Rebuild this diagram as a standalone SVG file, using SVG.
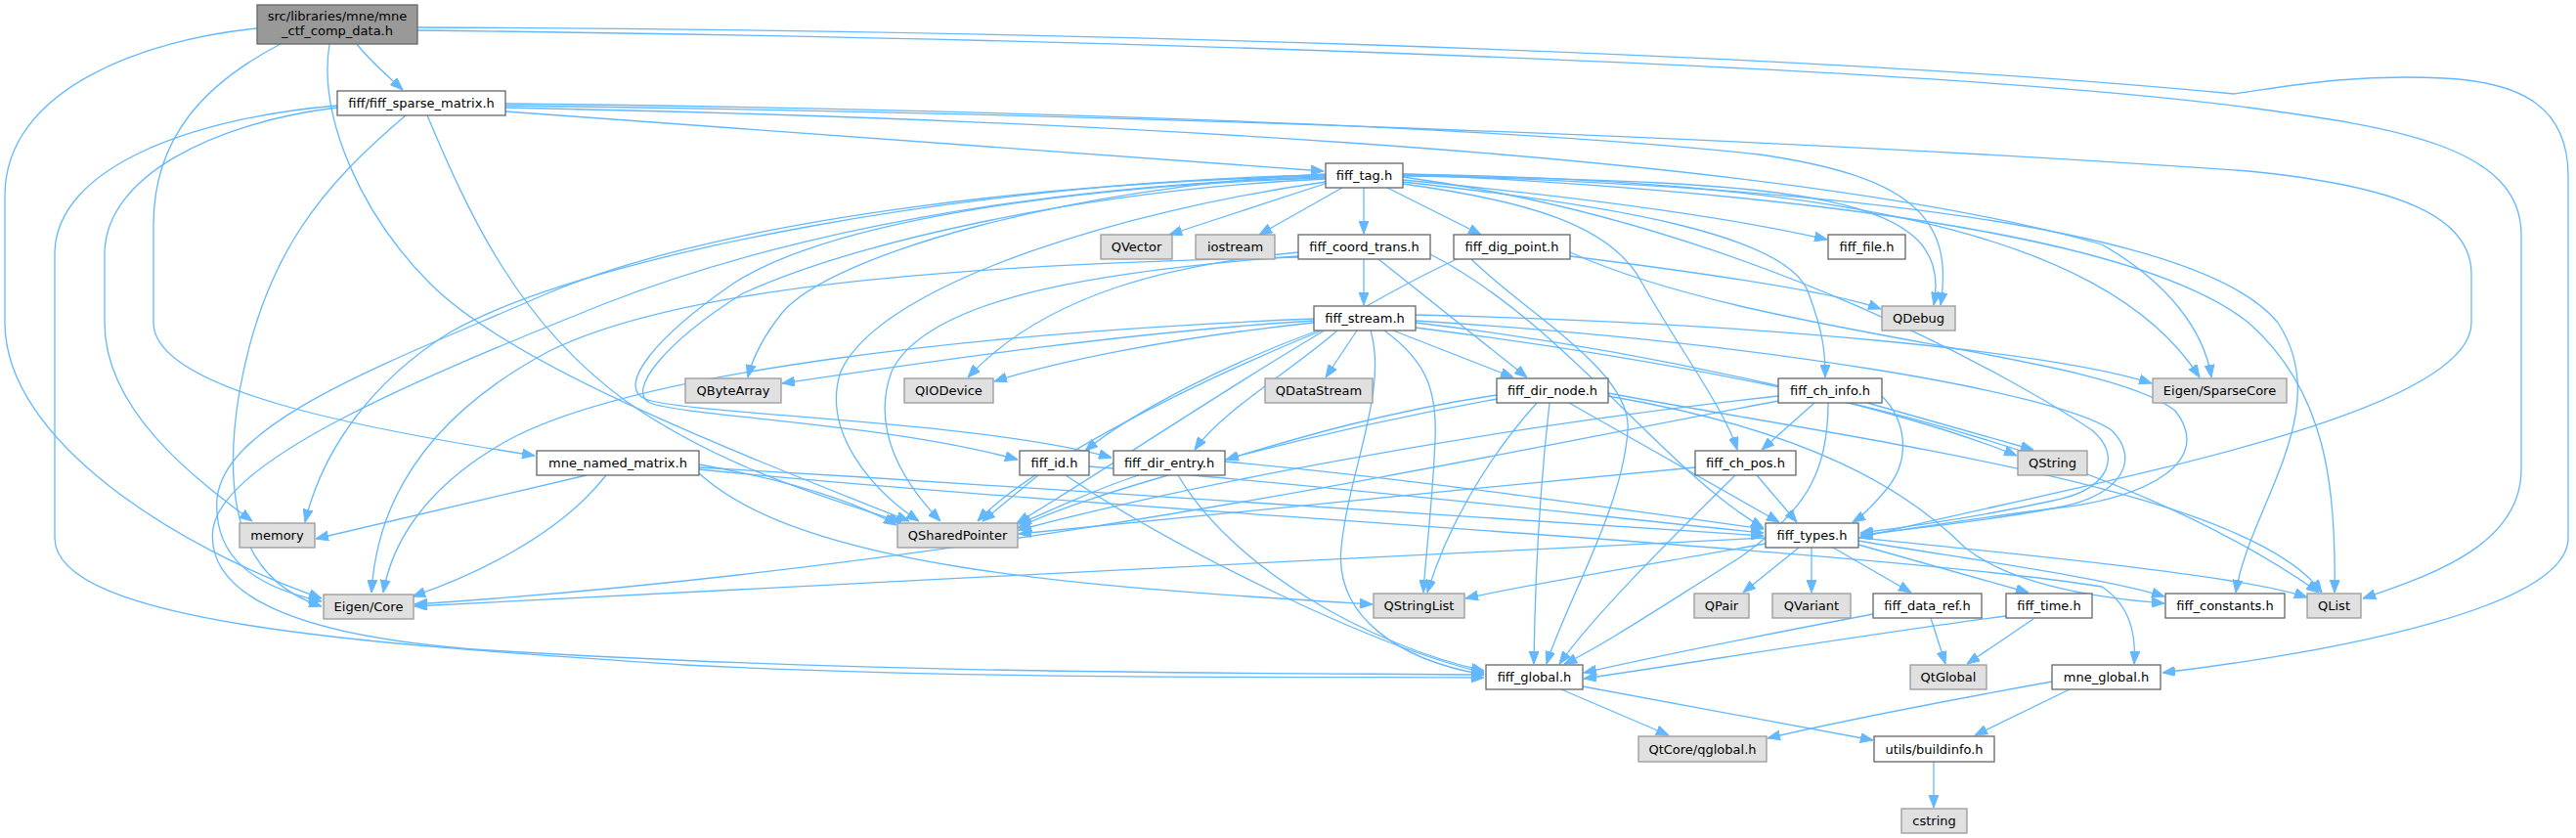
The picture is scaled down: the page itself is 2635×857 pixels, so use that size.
<svg xmlns="http://www.w3.org/2000/svg" width="2635" height="857" viewBox="0 0 2635 857">
<style>
.e{fill:none;stroke:#63b8ff;stroke-width:1.3;marker-end:url(#ah)}
.n rect{fill:#ffffff;stroke:#666666;stroke-width:1.3}
.g rect{fill:#e0e0e0;stroke:#999999;stroke-width:1.3}
.r rect{fill:#999999;stroke:#666666;stroke-width:1.3}
text{font-family:"DejaVu Sans","Liberation Sans",sans-serif;font-size:13px;fill:#000000;text-anchor:middle}
</style>
<defs>
<marker id="ah" markerUnits="userSpaceOnUse" markerWidth="13" markerHeight="10" refX="13" refY="5" orient="auto">
<path d="M0,0 L13,5 L0,10 z" fill="#63b8ff" stroke="#63b8ff" stroke-width="1"/>
</marker>
</defs>
<rect x="0" y="0" width="2635" height="857" fill="#ffffff"/>
<g id="edges">
<path class="e" d="M365,45 C378,62 395,76 412,92"/>
<path class="e" d="M287,45 C210,85 157,140 157,230 L157,330 C157,400 380,440 547,466"/>
<path class="e" d="M263,29 C150,40 5,90 5,200 L5,330 C5,450 180,560 329,612"/>
<path class="e" d="M337,45 C325,120 370,220 440,290 C520,370 720,450 930,533"/>
<path class="e" d="M427,28 C1000,30 1800,50 2285,96 C2330,90 2400,75 2500,80 C2580,84 2627,110 2627,180 L2627,550 C2627,620 2400,665 2212,688"/>
<path class="e" d="M427,31 C1200,40 2000,70 2300,110 C2450,130 2579,150 2579,240 L2579,480 C2579,560 2480,590 2417,612"/>
<path class="e" d="M517,114 L1354,175"/>
<path class="e" d="M345,108 C200,120 56,170 56,260 L56,550 C56,640 400,660 700,680 C1000,695 1300,692 1518,693"/>
<path class="e" d="M345,110 C220,125 107,180 107,260 L107,330 C107,420 200,490 258,533"/>
<path class="e" d="M415,118 C330,190 270,260 245,400 C225,520 250,595 329,620"/>
<path class="e" d="M437,118 C480,220 530,330 640,410 C740,480 850,510 922,534"/>
<path class="e" d="M517,106 C900,110 1500,125 1800,158 C1950,180 2000,220 1985,312"/>
<path class="e" d="M517,108 C1100,115 1800,140 2300,175 C2450,190 2528,220 2528,280 L2528,330 C2528,430 2100,500 1902,550"/>
<path class="e" d="M517,110 C1000,120 1800,150 2150,250 C2220,290 2255,340 2262,386"/>
<path class="e" d="M1358,187 L1196,240"/>
<path class="e" d="M1373,192 L1288,240"/>
<path class="e" d="M1395,192 L1395,239"/>
<path class="e" d="M1419,192 L1515,240"/>
<path class="e" d="M1435,184 C1600,200 1760,220 1869,245"/>
<path class="e" d="M1435,180 C1850,185 2000,200 1978,312"/>
<path class="e" d="M1435,178 C1850,185 2150,230 2250,386"/>
<path class="e" d="M1435,178 C1900,200 2200,250 2300,330 C2380,400 2390,500 2388,606"/>
<path class="e" d="M1435,179 C1850,190 2250,230 2330,330 C2390,420 2300,520 2287,606"/>
<path class="e" d="M1435,181 C1800,230 2080,400 2140,440 C2170,465 2160,500 2100,512 C2040,525 1960,538 1903,545"/>
<path class="e" d="M1435,186 C1650,210 1830,240 1850,300 C1865,340 1867,360 1867,386"/>
<path class="e" d="M1435,188 C1560,205 1650,230 1680,290 C1720,360 1765,420 1777,460"/>
<path class="e" d="M1356,183 C1100,195 870,250 760,300 C680,350 640,400 665,412 C700,426 900,432 1041,470"/>
<path class="e" d="M1356,182 C1100,190 850,225 750,290 C670,345 630,395 660,408 C700,424 1000,430 1137,468"/>
<path class="e" d="M1356,181 C1050,190 800,240 620,310 C420,390 230,470 218,540 C210,600 280,650 500,665 C900,690 1300,688 1518,690"/>
<path class="e" d="M1356,180 C1100,185 750,220 560,300 C400,370 230,430 222,510 C218,570 260,600 329,615"/>
<path class="e" d="M1356,178 C1100,190 850,260 800,320 C780,345 770,365 765,386"/>
<path class="e" d="M1356,186 C1150,215 900,290 860,380 C840,440 890,500 940,533"/>
<path class="e" d="M1356,179 C1000,185 600,260 460,340 C380,390 330,460 312,534"/>
<path class="e" d="M1395,265 L1395,312"/>
<path class="e" d="M1410,265 L1562,386"/>
<path class="e" d="M1328,262 C1150,275 950,300 912,380 C890,440 925,495 962,533"/>
<path class="e" d="M1328,258 C1200,270 1070,300 990,386"/>
<path class="e" d="M1328,263 C1000,270 700,290 560,360 C430,430 385,520 380,606"/>
<path class="e" d="M1463,260 C1600,330 1700,480 1804,540"/>
<path class="e" d="M1606,262 C1750,280 1880,300 1924,316"/>
<path class="e" d="M1606,258 C1800,345 2150,360 2225,420 C2265,470 2200,510 2100,520 C2020,530 1960,540 1903,548"/>
<path class="e" d="M1490,265 C1350,330 1150,470 1040,535"/>
<path class="e" d="M1505,265 C1560,320 1670,380 1665,440 C1660,520 1600,620 1582,679"/>
<path class="e" d="M1388,338 L1356,386"/>
<path class="e" d="M1425,338 L1548,386"/>
<path class="e" d="M1416,338 C1460,370 1470,400 1468,450 C1465,520 1458,570 1456,606"/>
<path class="e" d="M1402,338 C1420,400 1380,480 1372,560 C1365,630 1430,675 1518,690"/>
<path class="e" d="M1344,330 C1200,345 1080,370 1017,390"/>
<path class="e" d="M1344,328 C1150,340 950,370 800,392"/>
<path class="e" d="M1348,338 C1260,370 1160,420 1110,461"/>
<path class="e" d="M1368,338 C1320,380 1250,420 1222,460"/>
<path class="e" d="M1352,338 C1200,400 1050,480 1000,533"/>
<path class="e" d="M1344,326 C1000,340 650,380 520,450 C430,500 400,560 392,606"/>
<path class="e" d="M1448,328 C1800,350 2100,400 2160,440 C2190,470 2170,505 2110,518 C2040,532 1960,540 1903,547"/>
<path class="e" d="M1448,322 C1800,330 2100,360 2201,392"/>
<path class="e" d="M1448,330 C1700,360 1950,420 2063,466"/>
<path class="e" d="M1448,335 C1800,380 2150,450 2372,606"/>
<path class="e" d="M1605,412 L1820,534"/>
<path class="e" d="M1585,412 C1575,500 1570,600 1569,679"/>
<path class="e" d="M1572,412 C1520,470 1480,540 1460,606"/>
<path class="e" d="M1531,404 C1420,420 1320,450 1254,470"/>
<path class="e" d="M1531,408 C1300,450 1100,510 1041,540"/>
<path class="e" d="M1645,402 C1900,450 2300,500 2375,606"/>
<path class="e" d="M1645,405 C1850,440 1950,500 2010,560 C2060,600 2150,612 2214,617"/>
<path class="e" d="M1856,412 L1802,460"/>
<path class="e" d="M1925,405 C1950,430 1955,470 1930,500 C1915,518 1905,528 1895,534"/>
<path class="e" d="M1870,412 C1870,480 1850,520 1780,570 C1700,620 1640,660 1600,679"/>
<path class="e" d="M1910,412 L2080,460"/>
<path class="e" d="M1819,405 C1500,440 1200,500 1042,542"/>
<path class="e" d="M1819,410 C1500,470 1000,580 424,618"/>
<path class="e" d="M1797,486 L1838,534"/>
<path class="e" d="M1775,486 C1700,560 1630,630 1595,679"/>
<path class="e" d="M1734,478 C1500,500 1200,530 1042,546"/>
<path class="e" d="M1062,486 L1005,533"/>
<path class="e" d="M1090,486 C1200,560 1400,660 1518,688"/>
<path class="e" d="M1114,477 C1400,500 1650,530 1804,545"/>
<path class="e" d="M1165,486 C1120,500 1080,520 1042,536"/>
<path class="e" d="M1205,486 C1260,580 1400,660 1518,686"/>
<path class="e" d="M1253,472 C1450,490 1650,520 1804,541"/>
<path class="e" d="M600,486 L323,551"/>
<path class="e" d="M620,486 C570,550 480,590 422,610"/>
<path class="e" d="M715,475 C800,490 870,510 917,537"/>
<path class="e" d="M715,484 C820,580 1100,600 1404,618"/>
<path class="e" d="M715,478 C1100,500 1500,530 1804,548"/>
<path class="e" d="M715,480 C1100,520 1900,560 2150,600 C2180,620 2185,650 2183,679"/>
<path class="e" d="M1840,560 L1783,606"/>
<path class="e" d="M1853,560 L1853,606"/>
<path class="e" d="M1875,560 L1955,606"/>
<path class="e" d="M1901,557 L2075,606"/>
<path class="e" d="M1901,553 C2000,570 2150,590 2214,610"/>
<path class="e" d="M1901,550 C2100,570 2300,590 2360,611"/>
<path class="e" d="M1806,556 C1700,575 1550,600 1499,612"/>
<path class="e" d="M1806,550 C1400,570 800,600 424,620"/>
<path class="e" d="M1916,628 C1800,650 1700,670 1620,688"/>
<path class="e" d="M1975,632 L1990,679"/>
<path class="e" d="M2052,630 C1900,650 1750,675 1620,694"/>
<path class="e" d="M2080,633 L2012,679"/>
<path class="e" d="M1597,705 L1707,752"/>
<path class="e" d="M1619,702 L1916,757"/>
<path class="e" d="M2099,697 C2000,715 1880,738 1808,755"/>
<path class="e" d="M2117,705 L2020,752"/>
<path class="e" d="M1978,779 L1978,826"/>
</g>
<g id="node_mne_ctf_comp_data" class="r"><rect x="263" y="5" width="164" height="40"/><text x="345" y="20.5">src/libraries/mne/mne</text><text x="345" y="35.5">_ctf_comp_data.h</text></g>
<g id="node_fiff_sparse_matrix" class="n"><rect x="345" y="93" width="172" height="25"/><text x="431" y="110">fiff/fiff_sparse_matrix.h</text></g>
<g id="node_fiff_tag" class="n"><rect x="1356" y="167" width="79" height="25"/><text x="1395.5" y="184">fiff_tag.h</text></g>
<g id="node_QVector" class="g"><rect x="1126" y="240" width="73" height="25"/><text x="1162.5" y="257">QVector</text></g>
<g id="node_iostream" class="g"><rect x="1223" y="240" width="81" height="25"/><text x="1263.5" y="257">iostream</text></g>
<g id="node_fiff_coord_trans" class="n"><rect x="1328" y="240" width="135" height="25"/><text x="1395.5" y="257">fiff_coord_trans.h</text></g>
<g id="node_fiff_dig_point" class="n"><rect x="1487" y="240" width="119" height="25"/><text x="1546.5" y="257">fiff_dig_point.h</text></g>
<g id="node_fiff_file" class="n"><rect x="1870" y="240" width="79" height="25"/><text x="1909.5" y="257">fiff_file.h</text></g>
<g id="node_fiff_stream" class="n"><rect x="1344" y="313" width="104" height="25"/><text x="1396" y="330">fiff_stream.h</text></g>
<g id="node_QDebug" class="g"><rect x="1925" y="313" width="75" height="25"/><text x="1962.5" y="330">QDebug</text></g>
<g id="node_QByteArray" class="g"><rect x="701" y="387" width="98" height="25"/><text x="750" y="404">QByteArray</text></g>
<g id="node_QIODevice" class="g"><rect x="925" y="387" width="91" height="25"/><text x="970.5" y="404">QIODevice</text></g>
<g id="node_QDataStream" class="g"><rect x="1294" y="387" width="110" height="25"/><text x="1349" y="404">QDataStream</text></g>
<g id="node_fiff_dir_node" class="n"><rect x="1531" y="387" width="114" height="25"/><text x="1588" y="404">fiff_dir_node.h</text></g>
<g id="node_fiff_ch_info" class="n"><rect x="1819" y="387" width="106" height="25"/><text x="1872" y="404">fiff_ch_info.h</text></g>
<g id="node_Eigen_SparseCore" class="g"><rect x="2202" y="387" width="137" height="25"/><text x="2270.5" y="404">Eigen/SparseCore</text></g>
<g id="node_mne_named_matrix" class="n"><rect x="549" y="461" width="166" height="25"/><text x="632" y="478">mne_named_matrix.h</text></g>
<g id="node_fiff_id" class="n"><rect x="1043" y="461" width="71" height="25"/><text x="1078.5" y="478">fiff_id.h</text></g>
<g id="node_fiff_dir_entry" class="n"><rect x="1139" y="461" width="114" height="25"/><text x="1196" y="478">fiff_dir_entry.h</text></g>
<g id="node_fiff_ch_pos" class="n"><rect x="1734" y="461" width="103" height="25"/><text x="1785.5" y="478">fiff_ch_pos.h</text></g>
<g id="node_QString" class="g"><rect x="2064" y="461" width="71" height="25"/><text x="2099.5" y="478">QString</text></g>
<g id="node_memory" class="g"><rect x="245" y="535" width="77" height="25"/><text x="283.5" y="552">memory</text></g>
<g id="node_QSharedPointer" class="g"><rect x="918" y="535" width="123" height="25"/><text x="979.5" y="552">QSharedPointer</text></g>
<g id="node_fiff_types" class="n"><rect x="1806" y="535" width="95" height="25"/><text x="1853.5" y="552">fiff_types.h</text></g>
<g id="node_Eigen_Core" class="g"><rect x="331" y="608" width="92" height="25"/><text x="377" y="625">Eigen/Core</text></g>
<g id="node_QStringList" class="g"><rect x="1405" y="607" width="93" height="25"/><text x="1451.5" y="624">QStringList</text></g>
<g id="node_QPair" class="g"><rect x="1733" y="607" width="56" height="25"/><text x="1761" y="624">QPair</text></g>
<g id="node_QVariant" class="g"><rect x="1813" y="607" width="80" height="25"/><text x="1853" y="624">QVariant</text></g>
<g id="node_fiff_data_ref" class="n"><rect x="1916" y="607" width="111" height="25"/><text x="1971.5" y="624">fiff_data_ref.h</text></g>
<g id="node_fiff_time" class="n"><rect x="2052" y="607" width="88" height="25"/><text x="2096" y="624">fiff_time.h</text></g>
<g id="node_fiff_constants" class="n"><rect x="2215" y="607" width="122" height="25"/><text x="2276" y="624">fiff_constants.h</text></g>
<g id="node_QList" class="g"><rect x="2360" y="607" width="55" height="25"/><text x="2387.5" y="624">QList</text></g>
<g id="node_fiff_global" class="n"><rect x="1520" y="680" width="99" height="25"/><text x="1569.5" y="697">fiff_global.h</text></g>
<g id="node_QtGlobal" class="g"><rect x="1954" y="680" width="78" height="25"/><text x="1993" y="697">QtGlobal</text></g>
<g id="node_mne_global" class="n"><rect x="2099" y="680" width="111" height="25"/><text x="2154.5" y="697">mne_global.h</text></g>
<g id="node_QtCore_qglobal" class="g"><rect x="1676" y="753" width="131" height="26"/><text x="1741.5" y="771">QtCore/qglobal.h</text></g>
<g id="node_utils_buildinfo" class="n"><rect x="1917" y="753" width="123" height="26"/><text x="1978.5" y="771">utils/buildinfo.h</text></g>
<g id="node_cstring" class="g"><rect x="1945" y="827" width="67" height="25"/><text x="1978.5" y="844">cstring</text></g>
</svg>
